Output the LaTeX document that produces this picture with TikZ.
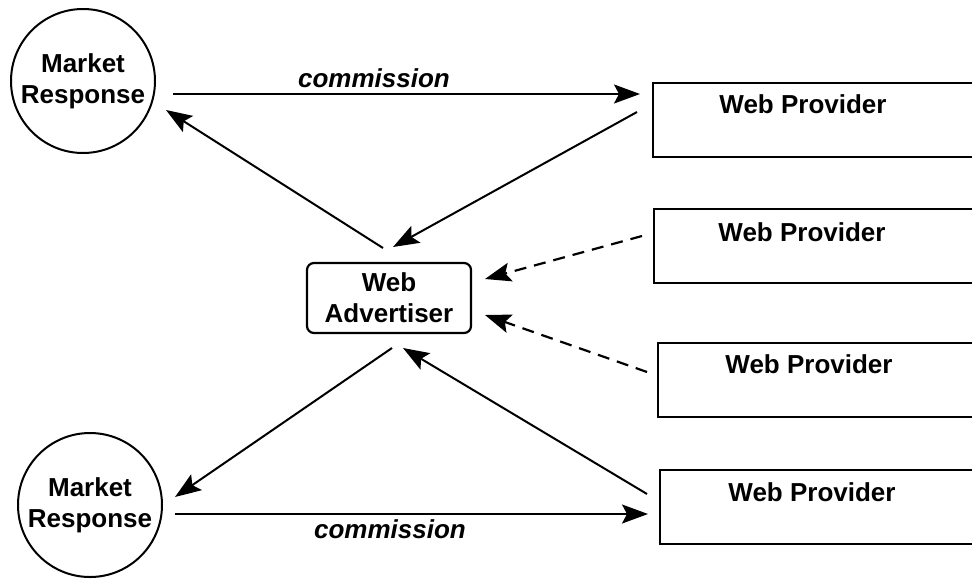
\documentclass[tikz,border=0pt]{standalone}
\usepackage{fontspec}
\setmainfont{Liberation Sans}
\usetikzlibrary{arrows.meta}
\tikzset{
  lbl/.style={font=\fontsize{13}{15.5}\selectfont\bfseries, inner sep=0pt, align=center},
  market/.style={circle, draw, line width=1pt, minimum size=72pt, inner sep=0pt, font=\fontsize{13}{15.5}\selectfont\bfseries, align=center},
  advbox/.style={rectangle, rounded corners=3.5pt, draw, line width=1.1pt, minimum width=82pt, minimum height=35pt, inner sep=0pt, font=\fontsize{13}{15.5}\selectfont\bfseries, align=center},
  pbox/.style={rectangle, draw, line width=1.2pt, anchor=north west, minimum width=175pt, minimum height=37pt, inner sep=0pt},
  comm/.style={font=\fontsize{13}{15.5}\selectfont\bfseries\itshape, inner sep=0pt, anchor=base},
  conn/.style={line width=1pt, -{Stealth[length=13pt, width=9.5pt, inset=2.5pt]}},
  dconn/.style={conn, line width=1.1pt, dash pattern=on 6pt off 4pt},
}
\begin{document}
\begin{tikzpicture}[x=0.5pt, y=-0.5pt]
\useasboundingbox (0,0) rectangle (972,578);
\clip (0,0) rectangle (972,578);
\fill[white] (0,0) rectangle (972,578);

% nodes
\node[market] (mr1) at (83,81) {Market\\Response};
\node[market] (mr2) at (90,505) {Market\\Response};
\node[advbox] (adv) at (389,298) {Web\\Advertiser};

\node[pbox] (wp1) at (652,82) {};
\node[pbox] (wp2) at (653,208) {};
\node[pbox] (wp3) at (657,342) {};
\node[pbox] (wp4) at (659,469) {};
\node[lbl, anchor=base] (wp1t) at (803,113) {Web Provider};
\node[lbl, anchor=base] (wp2t) at (802,241) {Web Provider};
\node[lbl, anchor=base] (wp3t) at (809,373) {Web Provider};
\node[lbl, anchor=base] (wp4t) at (812,501) {Web Provider};

\node[comm] (c1) at (374,87) {commission};
\node[comm] (c2) at (390,538) {commission};

% connector ends
\coordinate (a1s) at (173,94);  \coordinate (a1e) at (640,94);
\coordinate (a2s) at (383,248); \coordinate (a2e) at (166,110);
\coordinate (a3s) at (637,112); \coordinate (a3e) at (393,247);
\coordinate (a4s) at (642,236); \coordinate (a4e) at (485,279);
\coordinate (a5s) at (647,372); \coordinate (a5e) at (485,315);
\coordinate (a6s) at (392,348); \coordinate (a6e) at (175,497);
\coordinate (a7s) at (647,494); \coordinate (a7e) at (403,348);
\coordinate (a8s) at (175,514); \coordinate (a8e) at (648,514);

\draw[conn] (a1s) -- (a1e);
\draw[conn] (a2s) -- (a2e);
\draw[conn] (a3s) -- (a3e);
\draw[dconn] (a4s) -- (a4e);
\draw[dconn] (a5s) -- (a5e);
\draw[conn] (a6s) -- (a6e);
\draw[conn] (a7s) -- (a7e);
\draw[conn] (a8s) -- (a8e);
\end{tikzpicture}
\end{document}
